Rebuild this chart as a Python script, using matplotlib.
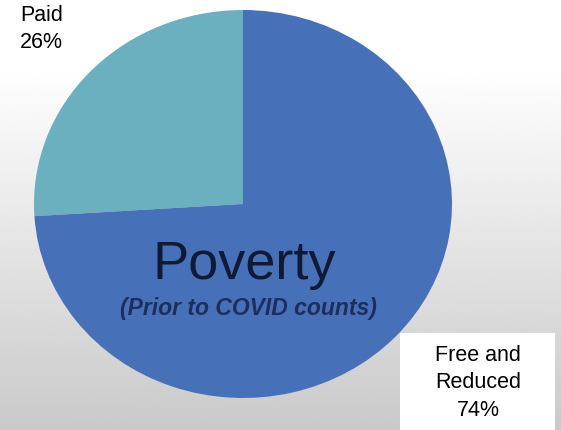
import matplotlib.pyplot as plt
import numpy as np

# Data
labels = ['Paid', 'Free and\nReduced']
shares = [26, 74]
colors = ['#6bb0bf', '#4671b8']

W, H = 561, 430
fig = plt.figure(figsize=(W / 100, H / 100), dpi=100)

# Background gradient (white at top, light gray at bottom)
bg = fig.add_axes([0, 0, 1, 1])
g = np.linspace(0, 1, 200)
shade = np.clip((g - 0.15) / 0.85, 0, 1)
vals = 1.0 - 0.21 * shade
img = np.repeat(vals[:, None], 2, axis=1)
bg.imshow(img, cmap='gray', vmin=0, vmax=1, aspect='auto', extent=[0, 1, 0, 1], origin='upper')
bg.axis('off')

# Pie (slightly stretched ellipse as in the slide)
left, top, right, bottom = 34, 10, 452, 398
ax = fig.add_axes([left / W, 1 - bottom / H, (right - left) / W, (bottom - top) / H])
ax.pie(shares, colors=colors, startangle=90, counterclock=True,
       wedgeprops=dict(linewidth=0))
ax.set_aspect('auto')
ax.set_xlim(-1, 1)
ax.set_ylim(-1, 1)
ax.axis('off')

# Title text on the pie
fig.text(244 / W, 1 - 265 / H, 'Poverty', fontsize=39, color='#0f1b35',
         ha='center', va='center', family='Liberation Sans')
fig.text(248 / W, 1 - 308 / H, '(Prior to COVID counts)', fontsize=16.5,
         color='#1c2f5c', ha='center', va='center', fontweight='bold',
         fontstyle='italic', family='Liberation Sans')

# Labels
fig.text(20 / W, 1 - 5 / H, f'{labels[0]}\n{shares[0]}%', fontsize=15.5,
         ha='left', va='top', family='Liberation Sans', linespacing=1.35)

fig.patches.append(plt.Rectangle((400 / W, 0), 155 / W, 97 / H, transform=fig.transFigure,
                                 facecolor='white', edgecolor='none', zorder=2))
fig.text(478 / W, 1 - 383 / H, f'{labels[1]}\n{shares[1]}%', fontsize=15.5,
         ha='center', va='center', family='Liberation Sans', linespacing=1.4, zorder=3)

plt.savefig('out.png', dpi=100)
